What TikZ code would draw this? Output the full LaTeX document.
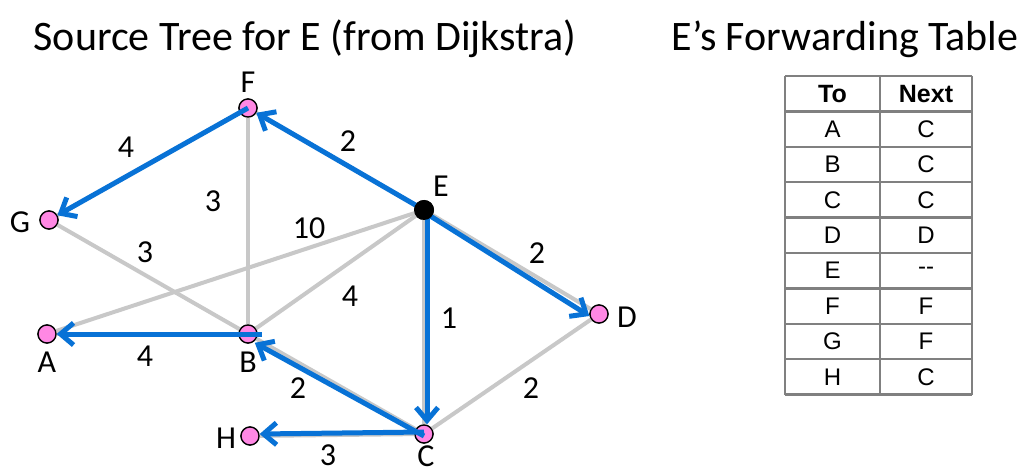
\documentclass[tikz,border=0pt]{standalone}
\usepackage{fontspec}
\setmainfont{Carlito}
\newfontfamily\arialf{Liberation Sans}
\usetikzlibrary{arrows.meta}
\definecolor{pinkn}{RGB}{255,136,228}
\definecolor{bluee}{RGB}{8,114,214}
\definecolor{grayl}{RGB}{200,200,200}
\definecolor{tgray}{RGB}{128,128,128}
\begin{document}
\begin{tikzpicture}[x=1pt,y=-1pt,
  vtx/.style={circle,draw=black,line width=1.3pt,fill=pinkn,minimum size=18pt,inner sep=0pt},
  src/.style={circle,fill=black,minimum size=20pt,inner sep=0pt},
  gedge/.style={draw=grayl,line width=4pt},
  tedge/.style={draw=bluee,line width=5pt,-{Straight Barb[length=13pt,width=22pt]}},
  nlbl/.style={font=\fontsize{32}{32}\selectfont,inner sep=0pt},
  elbl/.style={font=\fontsize{32}{32}\selectfont,inner sep=0pt},
  ttl/.style={font=\fontsize{42}{42}\selectfont,inner sep=0pt,anchor=base},
  tcell/.style={font=\arialf\fontsize{24}{24}\selectfont,inner sep=0pt},
  thead/.style={font=\arialf\bfseries\fontsize{25}{25}\selectfont,inner sep=0pt},
  tline/.style={draw=tgray,line width=2.5pt}]
\useasboundingbox[fill=white] (0,0) rectangle (1033,473);

% titles
\node[ttl] (title1) at (305,51) {Source Tree for E (from Dijkstra)};
\node[ttl] (title2) at (845,51) {E’s Forwarding Table};

% vertices
\node[vtx] (F) at (248,108) {};
\node[vtx] (G) at (49,220) {};
\node[src] (E) at (424,210) {};
\node[vtx] (A) at (47,334) {};
\node[vtx] (B) at (248,334) {};
\node[vtx] (D) at (599,314) {};
\node[vtx] (C) at (424,434) {};
\node[vtx] (H) at (250,436) {};

% gray edges
\draw[gedge] (F.center) -- (G.center);
\draw[gedge] (F.center) -- (B.center);
\draw[gedge] (F.center) -- (E.center);
\draw[gedge] (G.center) -- (B.center);
\draw[gedge] (E.center) -- (A.center);
\draw[gedge] (E.center) -- (B.center);
\draw[gedge] (E.center) -- (C.center);
\draw[gedge] (E.center) -- (D.center);
\draw[gedge] (D.center) -- (C.center);
\draw[gedge] (B.center) -- (C.center);
\draw[gedge] (A.center) -- (B.center);
\draw[gedge] (H.center) -- (C.center);

% redraw vertices on top of gray edges
\node[vtx] (Fv) at (F) {};
\node[vtx] (Gv) at (G) {};
\node[vtx] (Av) at (A) {};
\node[vtx] (Bv) at (B) {};
\node[vtx] (Dv) at (D) {};
\node[vtx] (Cv) at (C) {};
\node[vtx] (Hv) at (H) {};

% tree edges
\draw[tedge] (E.center) -- (F);
\draw[tedge] (F.center) -- (G);
\draw[tedge] ([yshift=-2pt]E.center) -- ([yshift=-2pt]D.west);
\draw[tedge] ([xshift=3pt]E.center) -- ([xshift=3pt]C.north);
\draw[tedge] ([yshift=-2pt]C.center) -- ([yshift=-2pt]B.south east);
\draw[tedge] ([xshift=14pt]B.center) -- (A);
\draw[tedge] ([yshift=2pt]C.center) -- ([yshift=2pt]H.east);

\node[src] (Etop) at (E) {};

% vertex labels
\node[nlbl] (lF) at (248,82) {F};
\node[nlbl] (lE) at (441,186) {E};
\node[nlbl] (lG) at (20,222) {G};
\node[nlbl] (lA) at (47,362) {A};
\node[nlbl] (lB) at (248,362) {B};
\node[nlbl] (lD) at (627,317) {D};
\node[nlbl] (lC) at (426,456) {C};
\node[nlbl] (lH) at (226,438) {H};

% edge labels
\node[elbl] (w1) at (126,147) {4};
\node[elbl] (w2) at (348,141) {2};
\node[elbl] (w3) at (213,201) {3};
\node[elbl] (w4) at (309,228) {10};
\node[elbl] (w5) at (145,252) {3};
\node[elbl] (w6) at (537,253) {2};
\node[elbl] (w7) at (350,296) {4};
\node[elbl] (w8) at (449,318) {1};
\node[elbl] (w9) at (145,356) {4};
\node[elbl] (w10) at (298,388) {2};
\node[elbl] (w11) at (531,388) {2};
\node[elbl] (w12) at (328,455) {3};

% forwarding table
\def\tl{785}\def\tm{880}\def\tr{972}\def\tt{76}\def\rh{35.4}
\foreach \i in {0,...,9}{
  \draw[tline] (\tl,{\tt+\i*\rh}) -- (\tr,{\tt+\i*\rh});
}
\draw[tline] (\tl,\tt) -- (\tl,{\tt+9*\rh});
\draw[tline] (\tm,\tt) -- (\tm,{\tt+9*\rh});
\draw[tline] (\tr,\tt) -- (\tr,{\tt+9*\rh});
\node[thead] (hTo) at ({(\tl+\tm)/2},{\tt+0.5*\rh}) {To};
\node[thead] (hNext) at ({(\tm+\tr)/2},{\tt+0.5*\rh}) {Next};
\foreach \a/\b [count=\k] in {A/C,B/C,C/C,D/D,E/--,F/F,G/F,H/C}{
  \node[tcell] (to\k) at ({(\tl+\tm)/2},{\tt+(\k+0.5)*\rh}) {\a};
  \node[tcell] (nx\k) at ({(\tm+\tr)/2},{\tt+(\k+0.5)*\rh}) {\b};
}
\end{tikzpicture}
\end{document}
